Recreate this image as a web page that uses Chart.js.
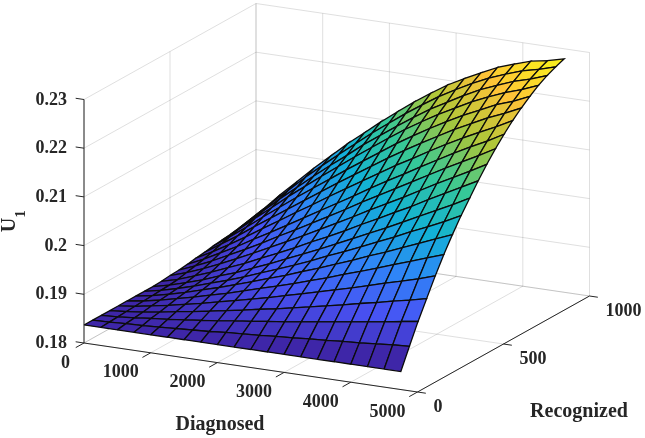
<!DOCTYPE html>
<html lang="en">
<head>
    <meta charset="UTF-8">
    <title>U1 surface</title>
    <script src="https://cdn.jsdelivr.net/npm/chart.js"></script>
    <style>
        html, body { margin: 0; padding: 0; background: #ffffff; }
        canvas { display: block; }
    </style>
</head>
<body>
    <canvas id="surface" width="645" height="438"></canvas>
    <script>
        // mesh positions
        const diagnosed = [0, 250, 500, 750, 1000, 1250, 1500, 1750, 2000, 2250, 2500, 2750, 3000, 3250, 3500, 3750, 4000, 4250, 4500, 4750];
        const recognized = [0, 50, 100, 150, 200, 250, 300, 350, 400, 450, 500, 550, 600, 650, 700, 750, 800, 850, 900, 950];

        // U1, one row per recognized value, one column per diagnosed value
        const u1Rows = [
            [.1837,.1837,.1837,.1837,.1837,.1837,.1837,.1837,.1837,.1837,.1837,.1837,.1837,.1837,.1837,.1837,.1837,.1837,.1837,.1837],
            [.1837,.1838,.1840,.1841,.1843,.1845,.1847,.1849,.1852,.1854,.1856,.1859,.1861,.1864,.1866,.1869,.1871,.1874,.1877,.1879],
            [.1837,.1839,.1842,.1846,.1849,.1853,.1857,.1861,.1866,.1870,.1875,.1879,.1884,.1889,.1894,.1899,.1904,.1909,.1915,.1920],
            [.1837,.1840,.1844,.1849,.1855,.1860,.1866,.1872,.1878,.1885,.1891,.1898,.1905,.1912,.1919,.1927,.1934,.1942,.1949,.1957],
            [.1837,.1841,.1847,.1853,.1860,.1867,.1875,.1883,.1891,.1899,.1908,.1917,.1926,.1935,.1944,.1954,.1964,.1973,.1983,.1994],
            [.1837,.1842,.1849,.1857,.1865,.1874,.1883,.1893,.1903,.1913,.1923,.1934,.1945,.1957,.1968,.1980,.1992,.2004,.2016,.2028],
            [.1837,.1843,.1851,.1860,.1870,.1880,.1891,.1902,.1914,.1925,.1938,.1950,.1963,.1976,.1990,.2003,.2017,.2031,.2045,.2059],
            [.1837,.1844,.1853,.1863,.1874,.1885,.1897,.1910,.1923,.1936,.1950,.1965,.1979,.1994,.2009,.2024,.2040,.2055,.2071,.2088],
            [.1837,.1845,.1855,.1866,.1879,.1891,.1905,.1919,.1934,.1949,.1964,.1980,.1996,.2012,.2028,.2045,.2062,.2079,.2096,.2114],
            [.1838,.1847,.1859,.1872,.1886,.1900,.1916,.1931,.1947,.1964,.1980,.1997,.2015,.2032,.2050,.2067,.2086,.2104,.2122,.2140],
            [.1840,.1851,.1864,.1879,.1895,.1911,.1928,.1945,.1962,.1980,.1998,.2016,.2035,.2053,.2071,.2090,.2109,.2127,.2145,.2164],
            [.1841,.1855,.1870,.1887,.1904,.1922,.1941,.1959,.1978,.1997,.2016,.2036,.2055,.2074,.2093,.2112,.2131,.2149,.2167,.2186],
            [.1843,.1859,.1877,.1895,.1915,.1934,.1954,.1974,.1994,.2014,.2034,.2055,.2075,.2094,.2114,.2133,.2152,.2170,.2187,.2206],
            [.1846,.1864,.1884,.1905,.1927,.1948,.1970,.1991,.2013,.2034,.2055,.2076,.2097,.2116,.2136,.2155,.2173,.2190,.2206,.2224],
            [.1848,.1870,.1892,.1916,.1939,.1962,.1985,.2008,.2031,.2053,.2075,.2097,.2118,.2138,.2157,.2176,.2193,.2210,.2224,.2240],
            [.1851,.1875,.1900,.1926,.1951,.1976,.2000,.2024,.2048,.2071,.2094,.2117,.2138,.2158,.2177,.2195,.2211,.2227,.2239,.2254],
            [.1853,.1880,.1908,.1935,.1963,.1989,.2015,.2040,.2065,.2089,.2113,.2136,.2157,.2177,.2195,.2213,.2228,.2242,.2253,.2267],
            [.1855,.1885,.1914,.1944,.1972,.2000,.2027,.2053,.2080,.2104,.2128,.2151,.2173,.2192,.2211,.2228,.2242,.2255,.2265,.2277],
            [.1858,.1890,.1921,.1952,.1983,.2012,.2040,.2067,.2094,.2119,.2144,.2167,.2189,.2208,.2226,.2242,.2255,.2267,.2275,.2285],
            [.1860,.1894,.1928,.1960,.1992,.2022,.2052,.2079,.2107,.2133,.2158,.2181,.2203,.2221,.2238,.2254,.2266,.2277,.2283,.2292]
        ];

        // axis ticks
        const diagnosedTicks = [0, 1000, 2000, 3000, 4000, 5000];
        const recognizedTicks = [0, 500, 1000];
        const u1Ticks = [0.18, 0.19, 0.2, 0.21, 0.22, 0.23];

        // parula stops
        const parula = [
            [62, 38, 168], [72, 82, 244], [46, 135, 247], [18, 177, 214],
            [55, 200, 151], [171, 199, 57], [254, 195, 56], [249, 251, 21]
        ];

        const INK = '#262626';
        const GRID = 'rgba(38,38,38,0.15)';
        const u1Min = 0.1837, u1Max = 0.2292;

        // view: fixed orthographic camera, gives plain page coordinates for the hidden scales
        function project(d, r, u) {
            return {
                x: 84 + d * 0.0667 + r * 0.172,
                y: 343 + d * 0.0098 - r * 0.096 - (u - 0.18) * 4870
            };
        }

        function colorFor(u) {
            const t = Math.min(1, Math.max(0, (u - u1Min) / (u1Max - u1Min))) * (parula.length - 1);
            const k = Math.min(parula.length - 2, Math.floor(t));
            const f = t - k;
            const c = parula[k].map((v, n) => Math.round(v + (parula[k + 1][n] - v) * f));
            return `rgb(${c[0]},${c[1]},${c[2]})`;
        }

        function lineSet(points, color) {
            return {
                data: points,
                showLine: true,
                fill: false,
                borderColor: color,
                borderWidth: 1,
                pointRadius: 0,
                tension: 0
            };
        }

        // chart.js paints the first dataset last, so front things go first
        const front = [];
        const maxD = diagnosedTicks[diagnosedTicks.length - 1];
        const maxR = recognizedTicks[recognizedTicks.length - 1];
        const baseU = u1Ticks[0], topU = u1Ticks[u1Ticks.length - 1];

        // axis lines and ticks
        front.push(lineSet([project(0, 0, baseU), project(0, 0, topU)], INK));
        front.push(lineSet([project(0, 0, baseU), project(maxD, 0, baseU)], INK));
        front.push(lineSet([project(maxD, 0, baseU), project(maxD, maxR, baseU)], INK));
        u1Ticks.forEach(u => front.push(lineSet([project(0, 0, u), project(-125, 0, u)], INK)));
        diagnosedTicks.forEach(d => front.push(lineSet([project(d, 0, baseU), project(d, -48, baseU)], INK)));
        recognizedTicks.forEach(r => front.push(lineSet([project(maxD, r, baseU), project(maxD + 125, r, baseU)], INK)));

        // surface cells, nearest first (low recognized, high diagnosed)
        for (let i = 0; i < recognized.length - 1; i++) {
            for (let j = diagnosed.length - 2; j >= 0; j--) {
                front.push({
                    data: [
                        project(diagnosed[j], recognized[i], u1Rows[i][j]),
                        project(diagnosed[j + 1], recognized[i], u1Rows[i][j + 1]),
                        project(diagnosed[j + 1], recognized[i + 1], u1Rows[i + 1][j + 1]),
                        project(diagnosed[j], recognized[i + 1], u1Rows[i + 1][j]),
                        project(diagnosed[j], recognized[i], u1Rows[i][j])
                    ],
                    showLine: true,
                    fill: 'shape',
                    backgroundColor: colorFor(u1Rows[i][j]),
                    borderColor: '#0c0c0c',
                    borderWidth: 1.3,
                    pointRadius: 0,
                    tension: 0
                });
            }
        }

        // grid on floor and two back walls
        diagnosedTicks.forEach(d => {
            front.push(lineSet([project(d, 0, baseU), project(d, maxR, baseU)], GRID));
            front.push(lineSet([project(d, maxR, baseU), project(d, maxR, topU)], GRID));
        });
        recognizedTicks.forEach(r => {
            front.push(lineSet([project(0, r, baseU), project(maxD, r, baseU)], GRID));
            front.push(lineSet([project(0, r, baseU), project(0, r, topU)], GRID));
        });
        u1Ticks.forEach(u => {
            front.push(lineSet([project(0, 0, u), project(0, maxR, u)], GRID));
            front.push(lineSet([project(0, maxR, u), project(maxD, maxR, u)], GRID));
        });

        const labelsPlugin = {
            id: 'axisText',
            afterDraw(chart) {
                const ctx = chart.ctx;
                const sx = chart.scales.x, sy = chart.scales.y;
                const put = (text, p, dx, dy, align) => {
                    ctx.textAlign = align;
                    ctx.fillText(text, sx.getPixelForValue(p.x) + dx, sy.getPixelForValue(p.y) + dy);
                };
                ctx.save();
                ctx.fillStyle = INK;
                ctx.textBaseline = 'middle';
                ctx.font = 'bold 18px "Liberation Serif"';
                u1Ticks.forEach(u => put(String(u), project(0, 0, u), -17, 0.5, 'right'));
                diagnosedTicks.forEach(d => put(String(d), project(d, 0, baseU), d === 0 ? -14 : -12, 20, 'right'));
                recognizedTicks.forEach(r => put(String(r), project(maxD, r, baseU), 16, 15, 'left'));

                ctx.font = 'bold 20px "Liberation Serif"';
                ctx.textAlign = 'center';
                ctx.fillText('Diagnosed', 220, 425);
                ctx.fillText('Recognized', 579, 412);

                ctx.translate(10, 225);
                ctx.rotate(-Math.PI / 2);
                ctx.fillText('U', 0, 0);
                ctx.font = 'bold 15px "Liberation Serif"';
                ctx.fillText('1', 11, 11);
                ctx.restore();
            }
        };

        new Chart(document.getElementById('surface').getContext('2d'), {
            type: 'scatter',
            data: { datasets: front },
            options: {
                responsive: false,
                animation: false,
                events: [],
                layout: { padding: 0 },
                plugins: { legend: { display: false }, tooltip: { enabled: false }, title: { display: false } },
                scales: {
                    x: { type: 'linear', min: 0, max: 645, display: false },
                    y: { type: 'linear', min: 0, max: 438, reverse: true, display: false }
                }
            },
            plugins: [labelsPlugin]
        });
    </script>
</body>
</html>
